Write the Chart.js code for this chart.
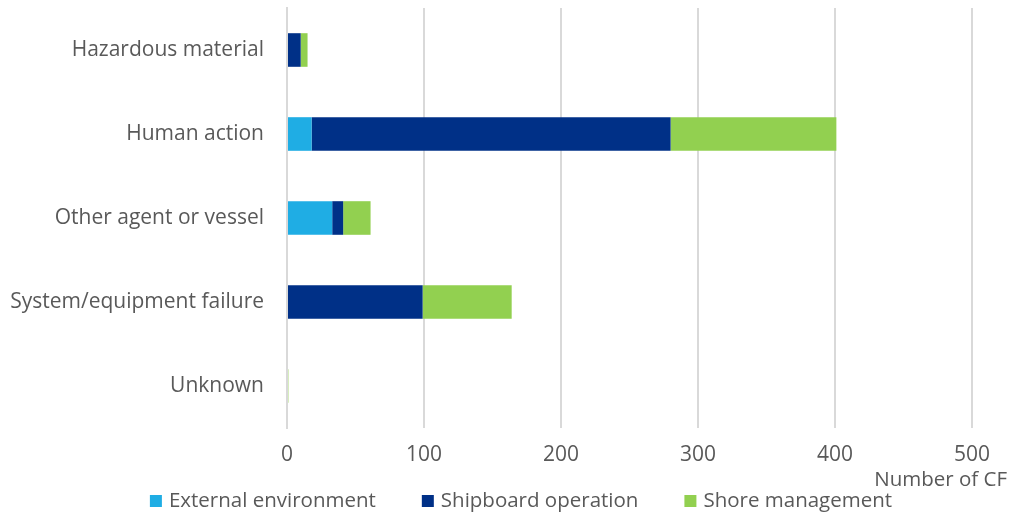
<!DOCTYPE html>
<html>
<head>
<meta charset="utf-8">
<script src="https://cdn.jsdelivr.net/npm/chart.js@4.4.1/dist/chart.umd.min.js"></script>
<style>
  html, body { margin: 0; padding: 0; background: #fff; }
  #wrap { width: 1010px; height: 516px; }
</style>
</head>
<body>
<div id="wrap"><canvas id="cfChart" width="1010" height="516"></canvas></div>
<script>
// categories and series (number of contributing factors)
const categories = ['Hazardous material', 'Human action', 'Other agent or vessel', 'System/equipment failure', 'Unknown'];
const externalEnv = [0, 18, 33, 0, 0];
const shipboardOp = [10, 262, 8, 99, 0];
const shoreMgmt = [5, 121, 20, 65, 1];
const xTicks = [0, 100, 200, 300, 400, 500];

const textColor = '#595959';
const fontFamily = '"Open Sans", "Noto Sans", sans-serif';

// axis title at the far right and the legend row underneath
const extras = {
    id: 'extras',
    afterDraw(chart) {
        const c = chart.ctx;
        c.save();
        c.fillStyle = textColor;
        c.font = '20.5px ' + fontFamily;
        c.textAlign = 'right';
        c.textBaseline = 'middle';
        c.fillText('Number of CF', 1007, 480);

        // legend
        c.font = '20.5px ' + fontFamily;
        c.textAlign = 'left';
        const box = 12, gap = 7, spacing = 46;
        const items = chart.data.datasets.map(ds => ({
            text: ds.label, color: ds.backgroundColor, w: box + gap + c.measureText(ds.label).width
        }));
        const total = items.reduce((s, it) => s + it.w, 0) + spacing * (items.length - 1);
        let x = 521 - total / 2;
        const y = 501;
        items.forEach(it => {
            c.fillStyle = it.color;
            c.fillRect(x, y - box / 2, box, box);
            c.fillStyle = textColor;
            c.fillText(it.text, x + box + gap, y);
            x += it.w + spacing;
        });
        c.restore();
    }
};

new Chart(document.getElementById('cfChart').getContext('2d'), {
    type: 'bar',
    data: {
        labels: categories,
        datasets: [{
            label: 'External environment',
            data: externalEnv,
            backgroundColor: '#1fade4'
        }, {
            label: 'Shipboard operation',
            data: shipboardOp,
            backgroundColor: '#003087'
        }, {
            label: 'Shore management',
            data: shoreMgmt,
            backgroundColor: '#92d050'
        }]
    },
    options: {
        indexAxis: 'y',
        responsive: false,
        animation: false,
        categoryPercentage: 0.8,
        barPercentage: 0.5,
        layout: { padding: { top: 8, right: 38, left: 2, bottom: 0 } },
        plugins: {
            legend: { display: false },
            tooltip: { enabled: false }
        },
        scales: {
            x: {
                stacked: true,
                min: 0,
                max: 500,
                afterBuildTicks(axis) {
                    axis.ticks = xTicks.map(v => ({ value: v }));
                },
                grid: { color: '#d9d9d9', lineWidth: 2, drawTicks: false },
                border: { display: false },
                ticks: {
                    color: textColor,
                    font: { family: fontFamily, size: 21 },
                    padding: 14
                },
                afterFit(axis) { axis.height = 88; }
            },
            y: {
                stacked: true,
                grid: { display: false },
                border: { display: true, color: '#d9d9d9', width: 2 },
                ticks: {
                    color: textColor,
                    font: { family: fontFamily, size: 21 },
                    padding: 15
                },
                afterFit(axis) {
                    axis.width = 285;
                    axis.paddingTop = 0;
                    axis.paddingBottom = 0;
                }
            }
        }
    },
    plugins: [extras]
});
</script>
</body>
</html>
